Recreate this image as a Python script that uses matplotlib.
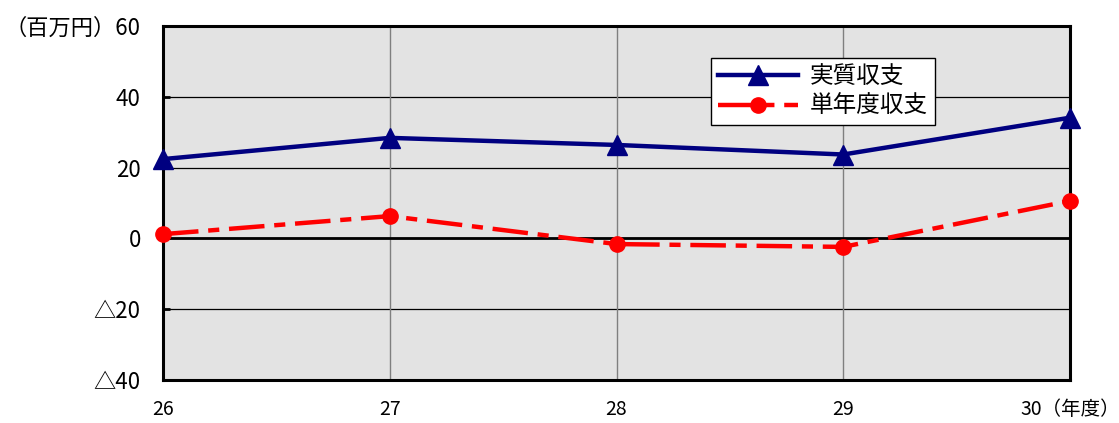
import matplotlib
matplotlib.use("Agg")
import matplotlib.pyplot as plt

plt.rcParams['font.family'] = ['Noto Sans CJK JP', 'DejaVu Sans']

years = ["26", "27", "28", "29", "30（年度）"]
jisshitsu = [22.4, 28.4, 26.4, 23.7, 34.1]
tannendo = [1.2, 6.3, -1.6, -2.4, 10.6]
yticks = [-40, -20, 0, 20, 40, 60]
ylabels = ["△40", "△20", "0", "20", "40", "（百万円）60"]

fig = plt.figure(figsize=(11.19, 4.23), dpi=100)
ax = fig.add_axes([163 / 1119, 43 / 423, 907 / 1119, 354 / 423])
ax.set_facecolor("#e3e3e3")

x = list(range(len(years)))
ax.plot(x, jisshitsu, color="#000080", lw=3.2, marker="^", ms=14,
        label="実質収支", zorder=4, clip_on=False)
ax.plot(x, tannendo, color="#ff0000", lw=3.2, marker="o", ms=11,
        dashes=(8, 2.2, 2.5, 2.2), dash_capstyle="butt",
        label="単年度収支", zorder=4, clip_on=False)

ax.set_xlim(0, len(years) - 1)
ax.set_ylim(-40, 60)
ax.set_yticks(yticks)
ax.set_yticklabels(ylabels, fontsize=16)
ax.set_xticks(x)
ax.set_xticklabels(years, fontsize=14)

for y in yticks:
    ax.axhline(y, color="black", lw=0.9, zorder=1)
ax.axhline(0, color="black", lw=2, zorder=2)
for xi in x:
    ax.axvline(xi, color="#7f7f7f", lw=1, zorder=1)

for s in ax.spines.values():
    s.set_linewidth(2.2)
    s.set_color("black")

ax.tick_params(axis="y", direction="in", length=5, width=2, pad=16)
ax.tick_params(axis="x", length=0, pad=14)

leg = ax.legend(loc="upper left", bbox_to_anchor=(0.604, 0.91), fontsize=17,
                frameon=True, fancybox=False, edgecolor="black",
                facecolor="white", framealpha=1, handlelength=3.4,
                borderpad=0.3, labelspacing=0.3, handletextpad=0.5,
                borderaxespad=0)
leg.get_frame().set_linewidth(1)

fig.savefig("out.png", dpi=100)
